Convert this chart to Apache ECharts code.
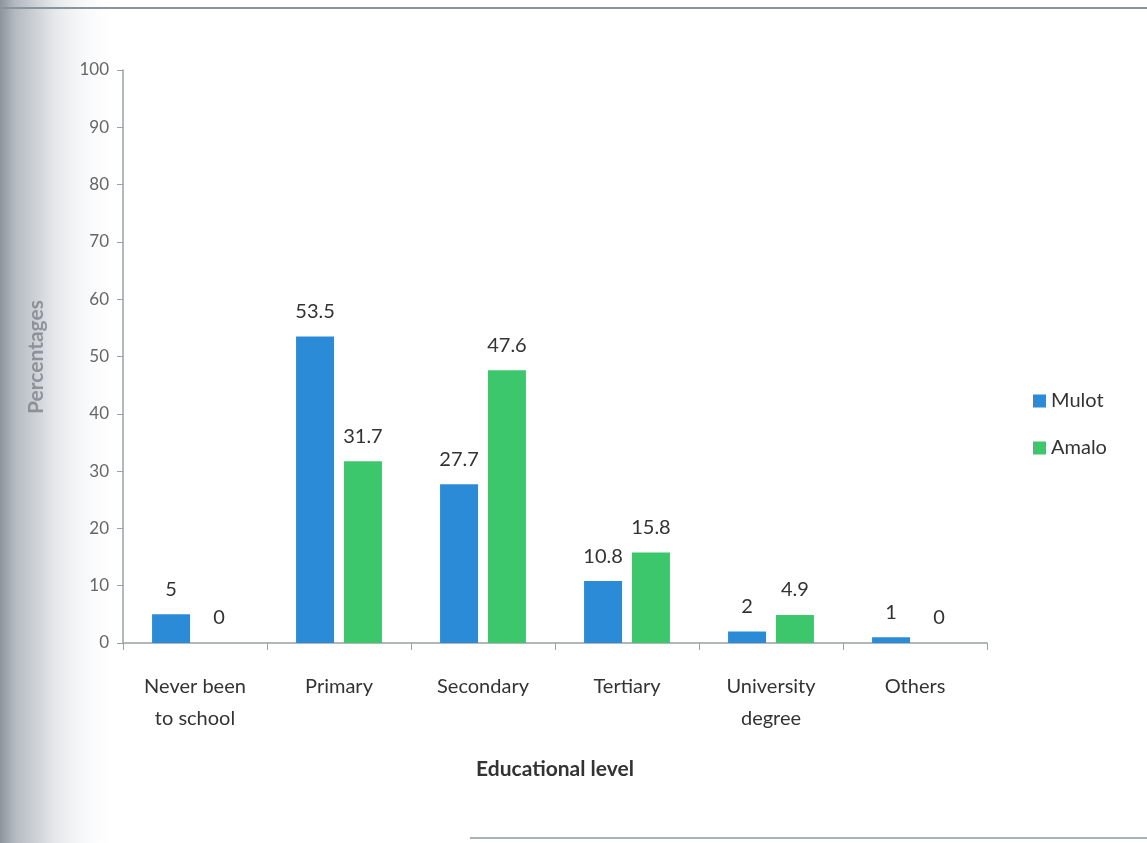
<!DOCTYPE html>
<html>
<head>
<meta charset="utf-8">
<script src="https://cdn.jsdelivr.net/npm/echarts@6/dist/echarts.min.js"></script>
<style>
  html, body { margin: 0; padding: 0; background: #ffffff; }
  #chart { width: 1147px; height: 843px; }
</style>
</head>
<body>
<div id="chart"></div>
<script>
// Educational level of respondents, by town (%)
const categories = ['Never been\nto school', 'Primary', 'Secondary', 'Tertiary', 'University\ndegree', 'Others'];
const mulot = [5, 53.5, 27.7, 10.8, 2, 1];
const amalo = [0, 31.7, 47.6, 15.8, 4.9, 0];
const seriesNames = ['Mulot', 'Amalo'];
const yTicks = { min: 0, max: 100, interval: 10 };

const chart = echarts.init(document.getElementById('chart'), null, { renderer: 'canvas' });

const labelStyle = {
  show: true,
  position: 'top',
  distance: 15,
  fontFamily: 'Lato, "Open Sans", sans-serif',
  fontSize: 20,
  color: '#333333'
};

chart.setOption({
  animation: false,
  backgroundColor: '#ffffff',
  graphic: [
    // shaded page edge on the left
    {
      type: 'rect', silent: true, z: -10,
      shape: { x: 0, y: 0, width: 120, height: 843 },
      style: {
        fill: new echarts.graphic.LinearGradient(0, 0, 1, 0, [
          { offset: 0, color: '#8e949c' },
          { offset: 0.12, color: '#b4b9c0' },
          { offset: 0.45, color: '#e4e7ea' },
          { offset: 1, color: 'rgba(255,255,255,0)' }
        ])
      }
    },
    // frame lines
    {
      type: 'line', silent: true, z: -5,
      shape: { x1: 0, y1: 8, x2: 1147, y2: 8 },
      style: { stroke: '#8a949c', lineWidth: 2 }
    },
    {
      type: 'line', silent: true, z: -5,
      shape: { x1: 470, y1: 838, x2: 1147, y2: 838 },
      style: { stroke: '#a8b2b8', lineWidth: 2 }
    },
    // y-axis title
    {
      type: 'text', silent: true,
      x: 36, y: 357, rotation: Math.PI / 2,
      style: {
        text: 'Percentages',
        fontFamily: 'Lato, sans-serif',
        fontSize: 21,
        fontWeight: 'bold',
        fill: '#6a7078',
        align: 'center',
        verticalAlign: 'middle',
        opacity: 0.65
      }
    }
  ],
  grid: { left: 123, right: 160, top: 70, bottom: 200, containLabel: false },
  legend: {
    data: seriesNames,
    orient: 'vertical',
    left: 1028,
    top: 386,
    itemWidth: 13,
    itemHeight: 13,
    itemGap: 27,
    icon: 'rect',
    textStyle: { fontFamily: 'Lato, sans-serif', fontSize: 20, color: '#333333', padding: [0, 0, 0, 0] }
  },
  xAxis: {
    type: 'category',
    data: categories,
    name: 'Educational level',
    nameLocation: 'middle',
    nameGap: 116,
    nameTextStyle: { fontFamily: 'Lato, sans-serif', fontSize: 21, fontWeight: 'bold', color: '#333333' },
    axisLine: { lineStyle: { color: '#9aa0a6', width: 1.5 } },
    axisTick: { show: true, alignWithLabel: false, length: 7, inside: false, lineStyle: { color: '#9aa0a6' } },
    axisLabel: {
      fontFamily: 'Lato, sans-serif', fontSize: 20, color: '#333333',
      margin: 28, lineHeight: 32
    }
  },
  yAxis: {
    type: 'value',
    min: yTicks.min,
    max: yTicks.max,
    interval: yTicks.interval,
    axisLine: { show: true, lineStyle: { color: '#9aa0a6', width: 1.5 } },
    axisTick: { show: true, length: 6, lineStyle: { color: '#9aa0a6' } },
    splitLine: { show: false },
    axisLabel: { fontFamily: 'Lato, sans-serif', fontSize: 17, color: '#666666', margin: 14 }
  },
  series: [
    {
      name: seriesNames[0], type: 'bar', data: mulot,
      barWidth: 38, barGap: '26%',
      itemStyle: { color: '#2b8bd6' },
      label: labelStyle
    },
    {
      name: seriesNames[1], type: 'bar', data: amalo,
      barWidth: 38,
      itemStyle: { color: '#3dc76c' },
      label: labelStyle
    }
  ]
});
</script>
</body>
</html>
